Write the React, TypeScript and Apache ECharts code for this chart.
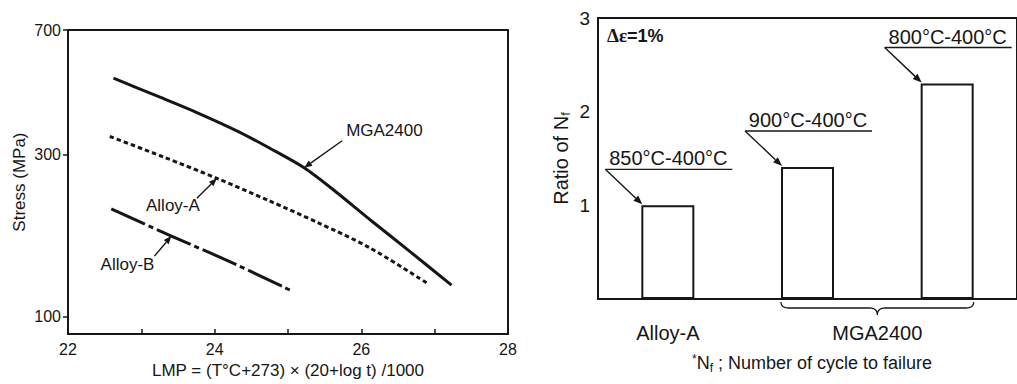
import React, { useEffect, useRef } from "react";
import * as echarts from "echarts";

// ---- Left chart: Larson-Miller (LMP vs stress, log stress axis)
const lmpTicks = [22, 24, 26, 28];
const stressTicks = [100, 300, 700];
const stressMin = 89;
const stressMax = 700;

const mgaLmp = [22.62, 23.23, 23.78, 24.33, 24.74, 25.22, 25.66, 26.11, 26.66, 27.23];
const mgaStress = [505, 446, 398, 351, 315, 275, 233, 194, 156, 124];

const alloyALmp = [22.57, 23.3, 24.03, 24.74, 25.42, 26.11, 26.89];
const alloyAStress = [340, 296, 256, 220, 189, 160, 126];

const alloyBLmp = [22.59, 23.41, 24.19, 25.06];
const alloyBStress = [208, 173, 146, 119];

// ---- Right chart: ratio of Nf
const barCategories = ["850°C-400°C", "900°C-400°C", "800°C-400°C"];
const barValues = [1.0, 1.41, 2.3];
const ratioTicks = [1, 2, 3];
const groupLabels = ["Alloy-A", "MGA2400"];

const INK = "#161616";
const SANS = "'Liberation Sans', Arial, Helvetica, sans-serif";
const lg = (v: number) => Math.log10(v);

function arrow(x1: number, y1: number, x2: number, y2: number, len = 8, w = 3.2) {
  const dx = x2 - x1, dy = y2 - y1;
  const d = Math.hypot(dx, dy);
  const ux = dx / d, uy = dy / d;
  const bx = x2 - ux * len, by = y2 - uy * len;
  return [
    { type: "line", shape: { x1, y1, x2: bx, y2: by }, style: { stroke: INK, lineWidth: 1.4 } },
    {
      type: "polygon",
      shape: { points: [[x2, y2], [bx - uy * w, by + ux * w], [bx + uy * w, by - ux * w]] },
      style: { fill: INK },
    },
  ];
}

function quad(p0: number[], c: number[], p1: number[], n = 8) {
  const pts: number[][] = [];
  for (let i = 0; i <= n; i++) {
    const t = i / n;
    pts.push([
      (1 - t) * (1 - t) * p0[0] + 2 * (1 - t) * t * c[0] + t * t * p1[0],
      (1 - t) * (1 - t) * p0[1] + 2 * (1 - t) * t * c[1] + t * t * p1[1],
    ]);
  }
  return pts;
}

export default function App() {
  const ref = useRef<HTMLDivElement>(null);
  useEffect(() => {
    if (!ref.current) return;
    const chart = echarts.init(ref.current, null, { renderer: "svg" });
    const option: any = {
      animation: false,
      backgroundColor: "#ffffff",
      textStyle: { fontFamily: SANS, color: INK },
      grid: [
        { left: 68, top: 30, width: 440, height: 305, show: true, borderColor: INK, borderWidth: 2 },
        { left: 598, top: 18, width: 426, height: 281, show: true, borderColor: INK, borderWidth: 2 },
      ],
      xAxis: [
        {
          type: "value",
          gridIndex: 0,
          min: 22,
          max: 28,
          interval: 1,
          axisLine: { lineStyle: { color: INK, width: 2 } },
          axisTick: { inside: true, length: 5, lineStyle: { color: INK, width: 1.5 } },
          axisLabel: {
            fontSize: 16,
            color: INK,
            margin: 7,
            formatter: (v: number) => (lmpTicks.indexOf(v) >= 0 ? String(v) : ""),
          },
          splitLine: { show: false },
          name: "LMP = (T°C+273) × (20+log t) /1000",
          nameLocation: "middle",
          nameGap: 27,
          nameTextStyle: { fontSize: 17, color: INK },
        },
        {
          type: "category",
          gridIndex: 1,
          data: barCategories,
          axisLine: { lineStyle: { color: INK, width: 2 } },
          axisTick: { show: false },
          axisLabel: { show: false },
        },
      ],
      yAxis: [
        {
          type: "value",
          gridIndex: 0,
          min: lg(stressMin),
          max: lg(stressMax),
          axisLine: { lineStyle: { color: INK, width: 2 } },
          axisTick: { inside: false, length: 5, customValues: stressTicks.map(lg), lineStyle: { color: INK, width: 1.5 } },
          axisLabel: {
            fontSize: 16,
            color: INK,
            margin: 7,
            customValues: stressTicks.map(lg),
            formatter: (v: number) => String(Math.round(Math.pow(10, v))),
          },
          splitLine: { show: false },
          name: "Stress (MPa)",
          nameLocation: "middle",
          nameRotate: 90,
          nameGap: 40,
          nameTextStyle: { fontSize: 17, color: INK },
        },
        {
          type: "value",
          gridIndex: 1,
          min: 0,
          max: 3,
          interval: 1,
          axisLine: { lineStyle: { color: INK, width: 2 } },
          axisTick: { inside: true, length: 7, customValues: [1, 2], lineStyle: { color: INK, width: 1.5 } },
          axisLabel: { fontSize: 19, color: INK, margin: 8, customValues: ratioTicks },
          splitLine: { show: false },
          name: "{a|Ratio of N}{s|f}",
          nameLocation: "middle",
          nameRotate: 90,
          nameGap: 26,
          nameTextStyle: {
            rich: {
              a: { fontSize: 20, color: INK, fontFamily: SANS },
              s: { fontSize: 13, color: INK, fontFamily: SANS, padding: [10, 0, 0, 0] },
            },
          },
        },
      ],
      series: [
        {
          name: "MGA2400",
          type: "line",
          xAxisIndex: 0,
          yAxisIndex: 0,
          data: mgaLmp.map((x, i) => [x, lg(mgaStress[i])]),
          smooth: 0.3,
          symbol: "none",
          lineStyle: { color: INK, width: 3 },
        },
        {
          name: "Alloy-A",
          type: "line",
          xAxisIndex: 0,
          yAxisIndex: 0,
          data: alloyALmp.map((x, i) => [x, lg(alloyAStress[i])]),
          smooth: 0.3,
          symbol: "none",
          lineStyle: { color: INK, width: 3, type: [4.5, 3] },
        },
        {
          name: "Alloy-B",
          type: "line",
          xAxisIndex: 0,
          yAxisIndex: 0,
          data: alloyBLmp.map((x, i) => [x, lg(alloyBStress[i])]),
          smooth: 0.3,
          symbol: "none",
          lineStyle: { color: INK, width: 3, type: [37, 4, 5, 4] },
        },
        {
          name: "Ratio",
          type: "bar",
          xAxisIndex: 1,
          yAxisIndex: 1,
          data: barValues,
          barWidth: 53,
          itemStyle: { color: "#ffffff", borderColor: INK, borderWidth: 2 },
        },
      ],
    };
    chart.setOption(option);

    const g: any[] = [];
    // Left chart callouts
    const p0 = (x: number, s: number) => chart.convertToPixel({ gridIndex: 0 }, [x, lg(s)]) as number[];
    const tM = p0(mgaLmp[5], mgaStress[5]);
    g.push(...arrow(tM[0] + 38, tM[1] - 27, tM[0], tM[1]));
    g.push({ type: "text", x: tM[0] + 42, y: tM[1] - 37, style: { text: "MGA2400", font: `17px ${SANS}`, fill: INK, verticalAlign: "middle", align: "left" } });
    const tA = p0(alloyALmp[2], alloyAStress[2]);
    g.push(...arrow(tA[0] - 20, tA[1] + 20, tA[0], tA[1]));
    g.push({ type: "text", x: tA[0] - 17, y: tA[1] + 27, style: { text: "Alloy-A", font: `17px ${SANS}`, fill: INK, verticalAlign: "middle", align: "right" } });
    const tB = p0(alloyBLmp[1], alloyBStress[1]);
    g.push(...arrow(tB[0] - 17, tB[1] + 20, tB[0], tB[1]));
    g.push({ type: "text", x: tB[0] - 17, y: tB[1] + 28, style: { text: "Alloy-B", font: `17px ${SANS}`, fill: INK, verticalAlign: "middle", align: "right" } });

    // Right chart annotations
    const half = 26.5;
    const bars = barValues.map((v, i) => chart.convertToPixel({ gridIndex: 1 }, [i, v]) as number[]);
    const base = chart.convertToPixel({ gridIndex: 1 }, [0, 0]) as number[];
    bars.forEach((p, i) => {
      const left = p[0] - half;
      const top = p[1];
      const ux = left - 36;
      const uy = top - 36;
      g.push({ type: "line", shape: { x1: ux, y1: uy, x2: ux + 127, y2: uy }, style: { stroke: INK, lineWidth: 1.4 } });
      g.push(...arrow(ux, uy, left + 1, top - 1, 9, 3.5));
      g.push({ type: "text", x: ux + 63, y: uy - 1, style: { text: barCategories[i], font: `20px ${SANS}`, fill: INK, align: "center", verticalAlign: "bottom" } });
    });
    g.push({
      type: "text",
      left: 607,
      top: 26,
      style: {
        text: "{g|Δε}{b|=1%}",
        rich: {
          g: { font: `bold 19px 'Liberation Serif', serif`, fill: INK },
          b: { font: `bold 18px ${SANS}`, fill: INK },
        },
      },
    });
    // Brace under MGA2400 bars
    const L = bars[1][0] - half, R = bars[2][0] + half, C = (L + R) / 2;
    const yT = base[1] + 3, yM = base[1] + 9, yB = base[1] + 16;
    const pts = [
      ...quad([L, yT], [L, yM], [L + 8, yM]),
      ...quad([C - 8, yM], [C, yM], [C, yB]),
      ...quad([C, yB], [C, yM], [C + 8, yM]),
      ...quad([R - 8, yM], [R, yM], [R, yT]),
    ];
    g.push({ type: "polyline", shape: { points: pts }, style: { stroke: INK, lineWidth: 1.3, fill: null } });
    g.push({ type: "text", x: C, y: base[1] + 34, style: { text: groupLabels[1], font: `20px ${SANS}`, fill: INK, align: "center", verticalAlign: "middle" } });
    g.push({ type: "text", x: bars[0][0], y: base[1] + 34, style: { text: groupLabels[0], font: `20px ${SANS}`, fill: INK, align: "center", verticalAlign: "middle" } });
    g.push({
      type: "text",
      x: 812,
      y: 363,
      style: {
        text: "{st|*}{a|N}{s|f}{a| ; Number of cycle to failure}",
        align: "center",
        verticalAlign: "middle",
        rich: {
          st: { font: `12px ${SANS}`, fill: INK, padding: [0, 0, 8, 0] },
          a: { font: `18px ${SANS}`, fill: INK },
          s: { font: `12px ${SANS}`, fill: INK, padding: [9, 0, 0, 0] },
        },
      },
    });
    chart.setOption({ graphic: g });

    return () => chart.dispose();
  }, []);
  return <div ref={ref} style={{ position: "fixed", left: 0, top: 0, width: 1017, height: 384 }} />;
}
